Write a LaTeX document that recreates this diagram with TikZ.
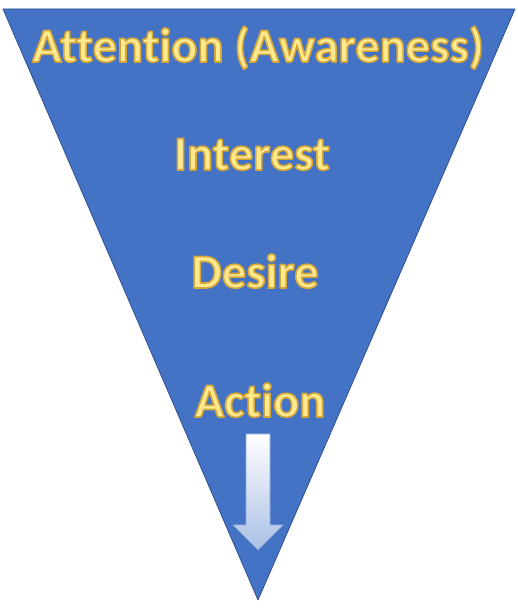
\documentclass[tikz,border=0pt]{standalone}
\usepackage{fontspec}
\setmainfont{Carlito}[Ligatures=CommonOff]
\usepackage{tikz}
\usetikzlibrary{positioning, calc}

\definecolor{funnelblue}{HTML}{4472C4}
\definecolor{funneledge}{HTML}{2F528F}
\definecolor{stagetext}{HTML}{FFE98F}
\definecolor{arrowtop}{HTML}{FFFFFF}
\definecolor{arrowbot}{HTML}{A9C0E6}
\definecolor{arrowedge}{HTML}{8FA9D6}

% outlined text: fill then stroke (render mode 2), gold edge
\newcommand{\glowing}[1]{%
  \special{pdf:code 2 Tr 1.6 w 1 J 1 j 0.84 0.66 0.22 RG}#1\special{pdf:code 0 Tr}}

\begin{document}
\begin{tikzpicture}[
      x=1pt, y=1pt,
      stage/.style={anchor=base, inner sep=0pt, text=stagetext,
                    font=\fontsize{48.5}{52}\selectfont\bfseries},
      funnel/.style={fill=funnelblue, draw=funneledge, line width=0.8pt, line join=round},
      downarr/.style={top color=arrowtop, bottom color=arrowbot, draw=arrowedge, line width=0.6pt}
    ]
      \useasboundingbox (0,0) rectangle (518,610);
      \coordinate (tl)   at (3,601);
      \coordinate (tr)   at (515,601);
      \coordinate (apex) at (258,10);
      \draw[funnel] (tl) -- (tr) -- (apex) -- cycle;

      \node[stage] (attention) at (258,548) {\glowing{Attention (Awareness)}};
      \node[stage] (interest)  at (252,440) {\glowing{Interest}};
      \node[stage] (desire)    at (255,322) {\glowing{Desire}};
      \node[stage] (action)    at (260,193) {\glowing{Action}};

      % arrow under Action
      \draw[downarr] (246,176) -- (270,176) -- (270,85) -- (283,85)
                     -- (258,60) -- (233,85) -- (246,85) -- cycle;
\end{tikzpicture}
\end{document}
